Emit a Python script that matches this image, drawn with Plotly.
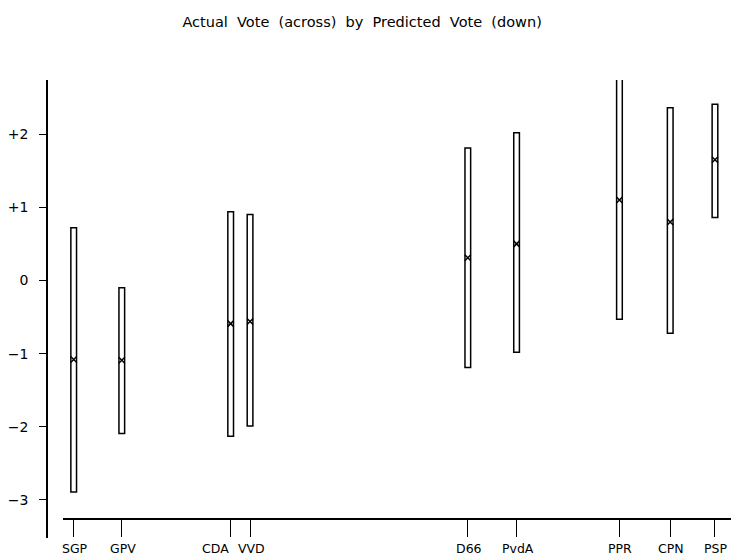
import plotly.graph_objects as go

# Data
parties = ["SGP", "GPV", "CDA", "VVD", "D66", "PvdA", "PPR", "CPN", "PSP"]
predicted_pos = [1.6, 8.8, 25.1, 28.0, 60.6, 67.9, 83.3, 90.9, 97.6]
upper = [0.72, -0.10, 0.94, 0.90, 1.81, 2.02, 2.77, 2.36, 2.41]
lower = [-2.89, -2.09, -2.13, -1.99, -1.19, -0.98, -0.53, -0.72, 0.86]
mean = [-1.08, -1.09, -0.59, -0.56, 0.31, 0.50, 1.10, 0.80, 1.65]
ytick_vals = [2, 1, 0, -1, -2, -3]
ytick_text = ["+2", "+1", "0", "\u22121", "\u22122", "\u22123"]

FONT = "DejaVu Sans, sans-serif"

fig = go.Figure()
fig.add_trace(go.Bar(
    x=predicted_pos,
    base=lower,
    y=[u - l for u, l in zip(upper, lower)],
    width=0.85,
    marker=dict(color="white", line=dict(color="black", width=1.5)),
    showlegend=False,
    hoverinfo="skip",
    cliponaxis=False,
))
fig.add_trace(go.Scatter(
    x=predicted_pos,
    y=mean,
    mode="markers",
    marker=dict(symbol="x-thin", size=6, line=dict(color="black", width=1.5), color="black"),
    showlegend=False,
    hoverinfo="skip",
))

# x tick labels as annotations (CDA sits left of its tick, as in the original)
for name, xp in zip(parties, predicted_pos):
    anchor = "right" if name == "CDA" else "center"
    shift = 0 if name == "CDA" else 1
    fig.add_annotation(
        x=xp, xref="x", y=0, yref="paper",
        text=name, showarrow=False,
        xanchor=anchor, yanchor="middle",
        xshift=shift, yshift=-10,
        font=dict(family=FONT, size=12.5, color="black"),
    )

fig.update_layout(
    width=736, height=557,
    margin=dict(l=47, r=5, t=80, b=19, autoexpand=False),
    paper_bgcolor="white",
    plot_bgcolor="white",
    font=dict(family=FONT, size=12, color="black"),
    title=dict(
        text="Actual  Vote  (across)  by  Predicted  Vote  (down)",
        xref="container", x=0.492, xanchor="center",
        yref="container", y=1 - 22 / 557, yanchor="middle",
        font=dict(family=FONT, size=14.5, color="black"),
    ),
    xaxis=dict(
        domain=[0.0234, 1],
        range=[0, 100],
        anchor="free",
        position=(538 - 519) / 458,
        automargin=False,
        showline=True, linecolor="black", linewidth=1.5,
        ticks="outside", ticklen=17, tickwidth=1.2, tickcolor="black",
        tickvals=predicted_pos, showticklabels=False,
        showgrid=False, zeroline=False,
    ),
    yaxis=dict(
        domain=[0, 1],
        range=[-3.52, 2.74],
        anchor="free",
        position=0,
        automargin=False,
        showline=True, linecolor="black", linewidth=1.5,
        ticks="outside", ticklen=7, tickwidth=1.2, tickcolor="black",
        tickvals=ytick_vals, ticktext=ytick_text,
        tickfont=dict(family=FONT, size=14, color="black"),
        ticklabelstandoff=8,
        showgrid=False, zeroline=False,
    ),
)

fig.write_html("out.html", config={"displayModeBar": False},
               post_script="document.body.style.margin='0';")
